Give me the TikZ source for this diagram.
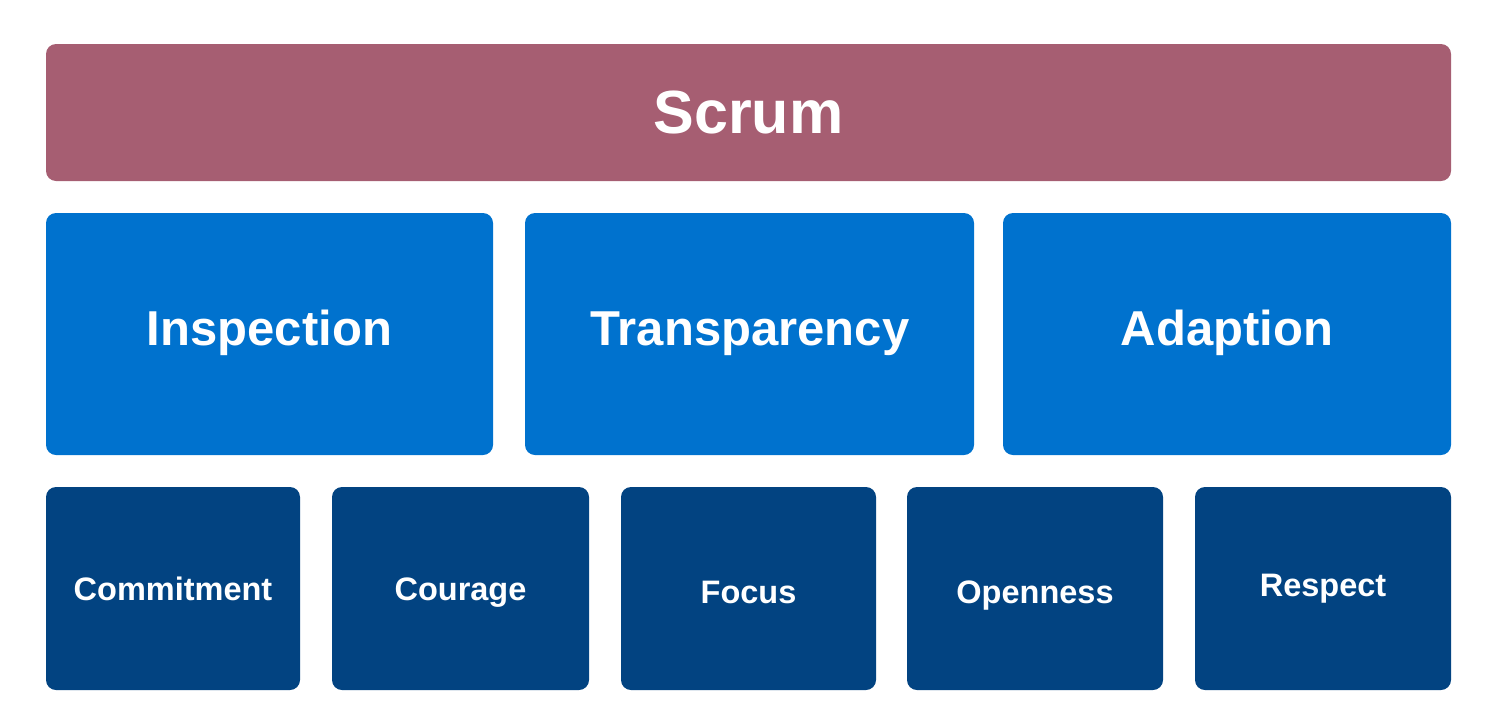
\documentclass[tikz,border=0pt]{standalone}
\usepackage{fontspec}
\setmainfont{Liberation Sans}
\definecolor{scrumrose}{HTML}{A65E72}
\definecolor{pillarblue}{HTML}{0072CE}
\definecolor{valuenavy}{HTML}{024381}
\begin{document}
\begin{tikzpicture}[x=1pt,y=-1pt,
  tile/.style={rounded corners=10pt},
  label/.style={text=white,inner sep=0pt,anchor=base},
  bigtext/.style={label,font=\bfseries\fontsize{61}{61}\selectfont},
  midtext/.style={label,font=\bfseries\fontsize{49}{49}\selectfont},
  smalltext/.style={label,font=\bfseries\fontsize{32.5}{32.5}\selectfont}]
\useasboundingbox (0,0) rectangle (1486,726);
% top bar
\fill[scrumrose,tile] (46,44) rectangle (1451,181);
\node[bigtext] (scrum) at (748.5,133) {Scrum};
% pillars
\fill[pillarblue,tile] (46,213) rectangle (493,455);
\fill[pillarblue,tile] (525,213) rectangle (974,455);
\fill[pillarblue,tile] (1003,213) rectangle (1451,455);
\node[midtext] (insp) at (269.5,345) {Inspection};
\node[midtext] (trans) at (750,345) {Transparency};
\node[midtext] (adapt) at (1227,345) {Adaption};
% values
\fill[valuenavy,tile] (46,487) rectangle (300,690);
\fill[valuenavy,tile] (332,487) rectangle (589,690);
\fill[valuenavy,tile] (621,487) rectangle (876,690);
\fill[valuenavy,tile] (907,487) rectangle (1163,690);
\fill[valuenavy,tile] (1195,487) rectangle (1451,690);
\node[smalltext] (commit) at (173,600) {Commitment};
\node[smalltext] (courage) at (460.5,600) {Courage};
\node[smalltext] (focus) at (748.5,603) {Focus};
\node[smalltext] (open) at (1035,603) {Openness};
\node[smalltext] (respect) at (1323,596) {Respect};
\end{tikzpicture}
\end{document}
